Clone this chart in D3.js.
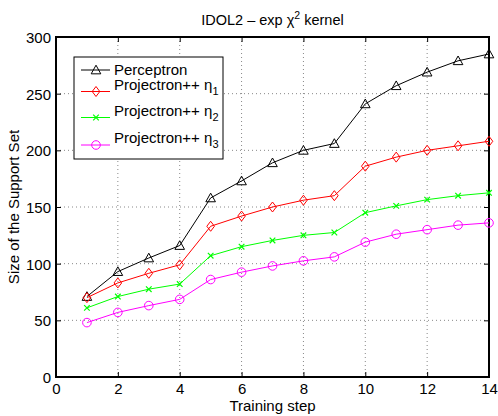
<!DOCTYPE html>
<html>
<head>
<meta charset="utf-8">
<script src="https://cdn.jsdelivr.net/npm/d3@7"></script>
<style>
  html, body { margin: 0; padding: 0; background: #fff; }
  svg { display: block; font-family: "Liberation Sans", Arial, Helvetica, sans-serif; }
</style>
</head>
<body>
<svg id="chart" width="498" height="416"></svg>
<script>
// ---- data ----
const steps = [1, 2, 3, 4, 5, 6, 7, 8, 9, 10, 11, 12, 13, 14];
const perceptron = [71, 93, 105, 116, 158, 173, 189, 200, 206, 241, 257, 269, 279, 285];
const projEta1 = [70, 83, 91.5, 99, 133, 142, 150, 156, 160, 186, 194, 200, 204, 208];
const projEta2 = [61, 71, 77.5, 82, 107, 115, 120.5, 125, 127.5, 145, 151, 156.5, 160, 162.5];
const projEta3 = [48, 57, 63, 68.5, 86, 92.5, 98, 102.5, 106, 119, 126, 130, 134, 136];
const xTicks = [0, 2, 4, 6, 8, 10, 12, 14];
const yTicks = [0, 50, 100, 150, 200, 250, 300];
const seriesNames = ["Perceptron", "Projectron++ \u03b7", "Projectron++ \u03b7", "Projectron++ \u03b7"];
const seriesSubs = ["", "1", "2", "3"];
const titleText = "IDOL2 \u2013 exp \u03c7";
const titleSup = "2";
const titleRest = " kernel";
const xLabel = "Training step";
const yLabel = "Size of the Support Set";

const series = [
  { values: perceptron, color: "#000000", marker: "triangle" },
  { values: projEta1, color: "#ff0000", marker: "diamond" },
  { values: projEta2, color: "#00ff00", marker: "x" },
  { values: projEta3, color: "#ff00ff", marker: "circle" }
];

// ---- layout ----
const svg = d3.select("#chart");
const L = 56, R = 489, T = 37, B = 377;
const x = d3.scaleLinear().domain([0, 14]).range([L, R]);
const y = d3.scaleLinear().domain([0, 300]).range([B, T]);

// grid
const grid = svg.append("g");
grid.selectAll("line.gx").data(xTicks.filter(d => d > 0 && d < 14)).join("line")
  .attr("x1", d => x(d)).attr("x2", d => x(d)).attr("y1", T).attr("y2", B)
  .attr("stroke", "#888").attr("stroke-width", 1).attr("stroke-dasharray", "1,3");
grid.selectAll("line.gy").data(yTicks.filter(d => d > 0 && d < 300)).join("line")
  .attr("y1", d => y(d)).attr("y2", d => y(d)).attr("x1", L).attr("x2", R)
  .attr("stroke", "#888").attr("stroke-width", 1).attr("stroke-dasharray", "1,3");

// axes via d3 axes (ticks inward)
const fs = 15;
const xAxis = svg.append("g").attr("transform", `translate(0,${B})`)
  .call(d3.axisBottom(x).tickValues(xTicks).tickSizeInner(-5).tickSizeOuter(0).tickPadding(6).tickFormat(d3.format("d")));
const yAxis = svg.append("g").attr("transform", `translate(${L},0)`)
  .call(d3.axisLeft(y).tickValues(yTicks).tickSizeInner(-5).tickSizeOuter(0).tickPadding(5).tickFormat(d3.format("d")));
const xAxisTop = svg.append("g").attr("transform", `translate(0,${T})`)
  .call(d3.axisTop(x).tickValues(xTicks).tickSizeInner(-5).tickSizeOuter(0).tickFormat(""));
const yAxisRight = svg.append("g").attr("transform", `translate(${R},0)`)
  .call(d3.axisRight(y).tickValues(yTicks).tickSizeInner(-5).tickSizeOuter(0).tickFormat(""));
[xAxis, yAxis, xAxisTop, yAxisRight].forEach(g => {
  g.select(".domain").remove();
  g.selectAll(".tick line").attr("stroke", "#000").attr("stroke-width", 1);
  g.selectAll("text").attr("font-size", fs).attr("font-family", "Liberation Sans, Arial, sans-serif").attr("fill", "#000");
});
yAxis.selectAll("text").attr("dy", "0.36em");

// box
svg.append("rect").attr("x", L).attr("y", T).attr("width", R - L).attr("height", B - T)
  .attr("fill", "none").attr("stroke", "#000").attr("stroke-width", 2);

// marker drawer
function drawMarker(g, type, cx, cy, color) {
  if (type === "triangle") {
    const s = 4.8;
    g.append("path").attr("d", `M${cx},${cy - s} L${cx + s},${cy + s * 0.8} L${cx - s},${cy + s * 0.8} Z`)
      .attr("fill", "none").attr("stroke", color).attr("stroke-width", 1);
  } else if (type === "diamond") {
    const w = 3.8, h = 5;
    g.append("path").attr("d", `M${cx},${cy - h} L${cx + w},${cy} L${cx},${cy + h} L${cx - w},${cy} Z`)
      .attr("fill", "none").attr("stroke", color).attr("stroke-width", 1);
  } else if (type === "x") {
    const s = 2.8;
    g.append("path").attr("d", `M${cx - s},${cy - s} L${cx + s},${cy + s} M${cx - s},${cy + s} L${cx + s},${cy - s}`)
      .attr("fill", "none").attr("stroke", color).attr("stroke-width", 1.2);
  } else if (type === "circle") {
    g.append("circle").attr("cx", cx).attr("cy", cy).attr("r", 4.3)
      .attr("fill", "none").attr("stroke", color).attr("stroke-width", 1);
  }
}

// series lines + markers
const line = d3.line().x((d, i) => x(steps[i])).y(d => y(d));
series.forEach(s => {
  const g = svg.append("g");
  g.append("path").datum(s.values).attr("d", line)
    .attr("fill", "none").attr("stroke", s.color).attr("stroke-width", 1);
  s.values.forEach((v, i) => drawMarker(g, s.marker, x(steps[i]), y(v), s.color));
});

// legend
const lg = svg.append("g");
lg.append("rect").attr("x", 74).attr("y", 57).attr("width", 149).attr("height", 102)
  .attr("fill", "#fff").attr("stroke", "#000").attr("stroke-width", 1);
const rowLineY = [70, 91.5, 117.5, 145];
const rowBase = [75, 90, 116, 142.5];
series.forEach((s, i) => {
  lg.append("line").attr("x1", 81).attr("x2", 110).attr("y1", rowLineY[i]).attr("y2", rowLineY[i])
    .attr("stroke", s.color).attr("stroke-width", 1);
  drawMarker(lg, s.marker, 96, rowLineY[i], s.color);
  const t = lg.append("text").attr("x", 114).attr("y", rowBase[i]).attr("font-size", fs).attr("fill", "#000");
  t.append("tspan").text(seriesNames[i]);
  if (seriesSubs[i]) t.append("tspan").attr("dy", 5).attr("font-size", 11).text(seriesSubs[i]);
});

// title
const tt = svg.append("text").attr("x", (L + R) / 2).attr("y", 24.5).attr("text-anchor", "middle")
  .attr("font-size", 14.5).attr("fill", "#000");
tt.append("tspan").text(titleText);
tt.append("tspan").attr("dy", -6).attr("font-size", 10.5).text(titleSup);
tt.append("tspan").attr("dy", 6).text(titleRest);

// axis labels
svg.append("text").attr("x", (L + R) / 2).attr("y", 411).attr("text-anchor", "middle")
  .attr("font-size", fs).attr("fill", "#000").text(xLabel);
svg.append("text").attr("transform", `translate(18.5,${(T + B) / 2}) rotate(-90)`).attr("text-anchor", "middle")
  .attr("font-size", fs).attr("fill", "#000").text(yLabel);
</script>
</body>
</html>
